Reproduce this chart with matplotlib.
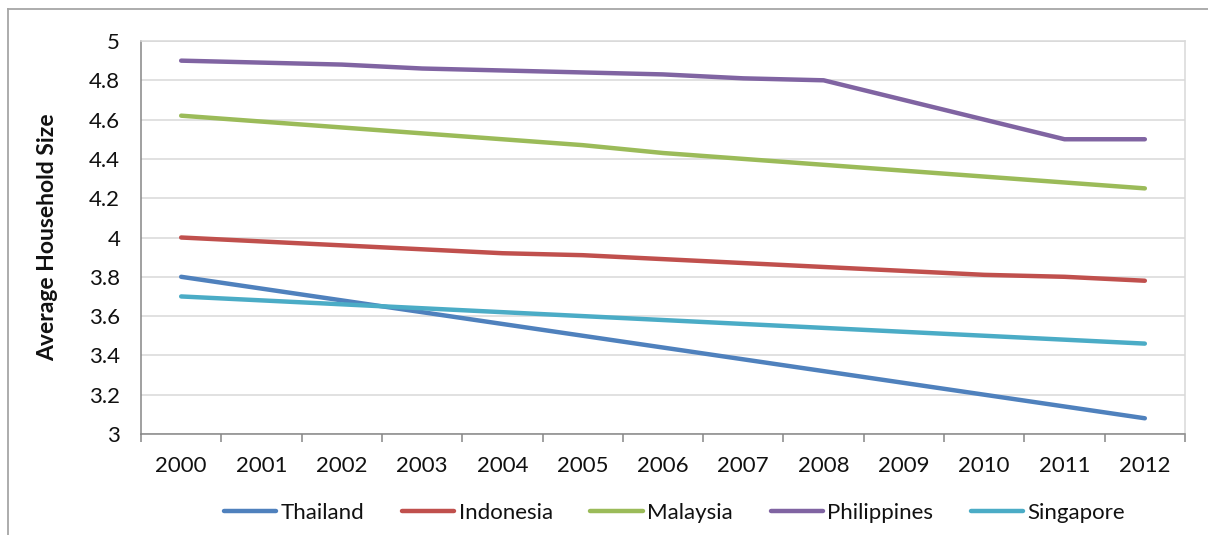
import matplotlib
matplotlib.use("Agg")
import matplotlib.pyplot as plt
from matplotlib.lines import Line2D
from matplotlib.ticker import FixedLocator, NullFormatter

plt.rcParams['font.family'] = ['Lato', 'DejaVu Sans']

years = ["2000", "2001", "2002", "2003", "2004", "2005", "2006",
         "2007", "2008", "2009", "2010", "2011", "2012"]
thailand = [3.80, 3.74, 3.68, 3.62, 3.56, 3.50, 3.44, 3.38, 3.32, 3.26, 3.20, 3.14, 3.08]
indonesia = [4.00, 3.98, 3.96, 3.94, 3.92, 3.91, 3.89, 3.87, 3.85, 3.83, 3.81, 3.80, 3.78]
malaysia = [4.62, 4.59, 4.56, 4.53, 4.50, 4.47, 4.43, 4.40, 4.37, 4.34, 4.31, 4.28, 4.25]
philippines = [4.90, 4.89, 4.88, 4.86, 4.85, 4.84, 4.83, 4.81, 4.80, 4.70, 4.60, 4.50, 4.50]
singapore = [3.70, 3.68, 3.66, 3.64, 3.62, 3.60, 3.58, 3.56, 3.54, 3.52, 3.50, 3.48, 3.46]

series = [
    ("Thailand", thailand, "#4F81BD"),
    ("Indonesia", indonesia, "#C0504D"),
    ("Malaysia", malaysia, "#9BBB59"),
    ("Philippines", philippines, "#8064A2"),
    ("Singapore", singapore, "#4BACC6"),
]

TEXT = '#111111'
W, H = 1208, 535
fig = plt.figure(figsize=(W / 100, H / 100), dpi=100)
ax = fig.add_axes([141 / W, 1 - 434 / H, (1185 - 141) / W, (434 - 41) / H])

x = list(range(len(years)))
handles = []
for name, vals, color in series:
    ln, = ax.plot(x, vals, color=color, lw=3.2, solid_capstyle='round',
                  solid_joinstyle='round', label=name, zorder=3)
    handles.append(ln)

ax.set_xlim(-0.5, len(years) - 0.5)
ax.set_ylim(3, 5)
ax.set_yticks([3 + 0.2 * i for i in range(11)])
ax.set_yticklabels(["3", "3.2", "3.4", "3.6", "3.8", "4", "4.2", "4.4", "4.6", "4.8", "5"])
ax.grid(axis='y', color='#D9D9D9', lw=1.1, zorder=0)
ax.tick_params(axis='y', length=0, pad=15, labelsize=16, labelcolor=TEXT)

# category labels centred, tick marks between categories
ax.xaxis.set_major_locator(FixedLocator([i - 0.5 for i in range(len(years) + 1)]))
ax.xaxis.set_major_formatter(NullFormatter())
ax.xaxis.set_minor_locator(FixedLocator(x))
ax.set_xticklabels(years, minor=True)
ax.tick_params(axis='x', which='major', length=6, width=1.1, color='#868686', direction='out')
ax.tick_params(axis='x', which='minor', length=0, pad=16, labelsize=16, labelcolor=TEXT)

for side in ('top', 'right'):
    ax.spines[side].set_color('#D9D9D9')
    ax.spines[side].set_linewidth(1.1)
for side in ('left', 'bottom'):
    ax.spines[side].set_color('#868686')
    ax.spines[side].set_linewidth(1.1)

ax.set_ylabel("Average Household Size", fontsize=16.5, fontweight='bold',
              color=TEXT, labelpad=22)

fig.legend(handles=handles, loc='center', bbox_to_anchor=(674.5 / W, 1 - 513 / H),
           ncol=5, frameon=False, fontsize=16, handlelength=2.35, handletextpad=0.2,
           columnspacing=1.7, labelcolor=TEXT)

# chart-area border
fig.add_artist(Line2D([8 / W, 8 / W], [0, 1 - 9 / H], transform=fig.transFigure,
                      color='#A6A6A6', lw=1.3))
fig.add_artist(Line2D([8 / W, 1], [1 - 9 / H, 1 - 9 / H], transform=fig.transFigure,
                      color='#A6A6A6', lw=1.3))

fig.savefig("out.png", dpi=100, facecolor='white')
